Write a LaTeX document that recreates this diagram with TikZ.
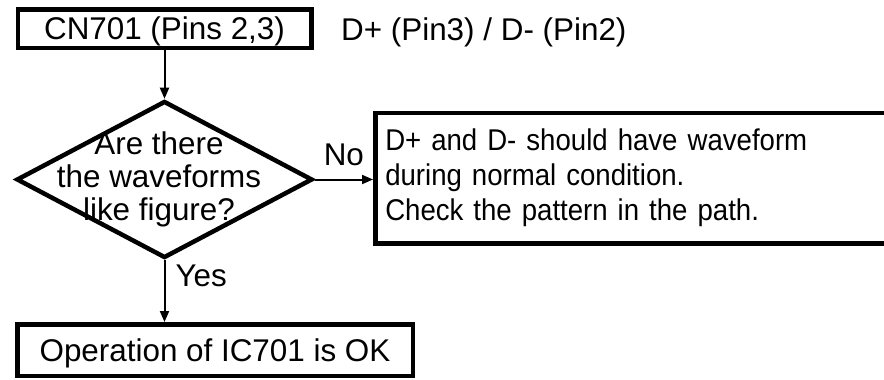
\documentclass[tikz,border=0pt]{standalone}
\usepackage{fontspec}
\setmainfont{Liberation Sans}
\newfontfamily\chkfont{Liberation Sans}[FakeStretch=0.92]
\usetikzlibrary{positioning,arrows.meta,shapes.geometric}

\begin{document}
\begin{tikzpicture}[
  x=1pt, y=-1pt,
  font=\fontsize{31.4}{33}\selectfont,
  box/.style={draw, line width=4.5pt, inner sep=0pt, align=center},
  dec/.style={draw, diamond, line width=4.5pt, inner sep=0pt, minimum width=296pt, minimum height=157pt},
  arr/.style={line width=2pt, -{Triangle[length=11pt, width=9pt]}},
  lbl/.style={inner sep=0pt}
]
  \useasboundingbox (0,0) rectangle (884,380);
  \clip (0,0) rectangle (884,380);
  \node[box, minimum width=293.5pt, minimum height=38.5pt, text height=22pt, text depth=-9pt] (cn) at (164.5,28.5) {CN701 (Pins 2,3)};
  \node[lbl, anchor=base west] (pins) at (341,40) {D+ (Pin3) / D- (Pin2)};
  \node[dec] (q) at (164.5,179.5) {};
  \node[lbl, align=center] (qtext) at (159,179) {Are there\\the waveforms\\like figure?};
  \node[box, anchor=west, align=left, inner xsep=10pt, text width=520pt, minimum height=130.5pt,
        font=\chkfont\fontsize{30}{35}\selectfont] (chk) at (373,178)
        {D+ and D- should have waveform\\during normal condition.\\Check the pattern in the path.};
  \node[box, minimum width=395.5pt, minimum height=51.5pt, text height=22.5pt, text depth=0pt] (ok) at (215,350) {Operation of IC701 is OK};
  \draw[arr] (cn) -- (q);
  \draw[arr] (q.east) -- (q.east -| chk.west) node[lbl, midway, above=13pt] {No};
  \draw[arr] (q.south) -- (q.south |- ok.north) node[lbl, pos=0.25, anchor=west, xshift=10pt] {Yes};
\end{tikzpicture}
\end{document}
